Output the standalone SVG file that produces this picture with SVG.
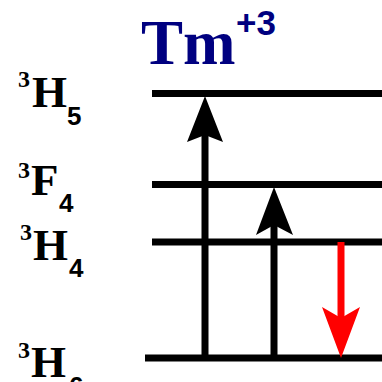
<svg xmlns="http://www.w3.org/2000/svg" width="382" height="382" viewBox="0 0 382 382">
<style>
.lvl{stroke:#000;stroke-width:7;fill:none}
.stem{stroke-width:7;fill:none}
.lbl{font-family:"Liberation Serif","Times New Roman",serif;font-weight:bold;fill:#000}
.sub{font-family:"Liberation Sans",Arial,sans-serif;font-weight:bold;fill:#000}
</style>
<rect width="382" height="382" fill="#fff"/>
<g id="title">
<text x="141" y="64" font-family="Liberation Serif,Times New Roman,serif" font-weight="bold" font-size="63" fill="#000080">Tm</text>
<text x="236" y="35" font-family="Liberation Sans,Arial,sans-serif" font-weight="bold" font-size="35" fill="#000080">+3</text>
</g>
<g id="level-3H5">
<line class="lvl" x1="152" y1="93.5" x2="382" y2="93.5"/>
<text class="lbl" x="18" y="87" font-size="24">3</text>
<text class="lbl" x="32" y="107" font-size="45">H</text>
<text class="sub" x="67" y="125" font-size="26">5</text>
</g>
<g id="level-3F4">
<line class="lvl" x1="152" y1="184.5" x2="382" y2="184.5"/>
<text class="lbl" x="18" y="178" font-size="24">3</text>
<text class="lbl" x="31" y="195" font-size="45">F</text>
<text class="sub" x="59" y="212" font-size="26">4</text>
</g>
<g id="level-3H4">
<line class="lvl" x1="152" y1="242" x2="382" y2="242"/>
<text class="lbl" x="20" y="240" font-size="24">3</text>
<text class="lbl" x="33" y="260" font-size="45">H</text>
<text class="sub" x="69" y="277" font-size="26">4</text>
</g>
<g id="level-3H6">
<line class="lvl" x1="145" y1="358" x2="382" y2="358" stroke-width="8"/>
<text class="lbl" x="18" y="358" font-size="24">3</text>
<text class="lbl" x="31" y="377" font-size="45">H</text>
<text class="sub" x="69" y="395" font-size="26">6</text>
</g>
<g id="connectors">
<line class="stem" stroke="#000" x1="205" y1="358" x2="205" y2="134"/>
<path d="M205,96 L223,142 L205,135 L187,142 Z" fill="#000"/>
<line class="stem" stroke="#000" x1="274" y1="358" x2="274" y2="224"/>
<path d="M274,187 L293,235 L274,225 L256,235 Z" fill="#000"/>
<line class="stem" stroke="#ff0000" x1="341" y1="242" x2="341" y2="320"/>
<path d="M341,358 L360,307 L341,318 L322,307 Z" fill="#ff0000"/>
</g>
</svg>
